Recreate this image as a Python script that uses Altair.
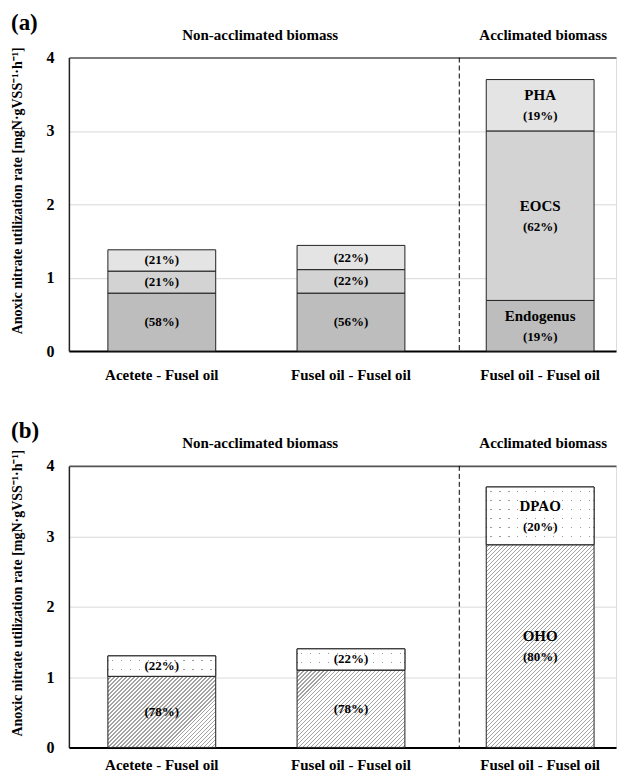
import altair as alt
import pandas as pd

# ---------------- data ----------------
cat_ids = ["g1", "g2", "g3"]
cat_labels = ["Acetete - Fusel oil", "Fusel oil - Fusel oil", "Fusel oil - Fusel oil"]
groups = ["Non-acclimated biomass", "Acclimated biomass"]
named = [False, False, True]

# panel (a)
a_components = ["Endogenus", "EOCS", "PHA"]
a_endogenus = [0.79, 0.79, 0.69]
a_eocs = [0.30, 0.32, 2.31]
a_pha = [0.29, 0.33, 0.70]
a_pct_endogenus = ["(58%)", "(56%)", "(19%)"]
a_pct_eocs = ["(21%)", "(22%)", "(62%)"]
a_pct_pha = ["(21%)", "(22%)", "(19%)"]

# panel (b)
b_components = ["OHO", "DPAO"]
b_oho = [1.01, 1.10, 2.88]
b_dpao = [0.29, 0.30, 0.82]
b_pct_oho = ["(78%)", "(78%)", "(80%)"]
b_pct_dpao = ["(22%)", "(22%)", "(20%)"]

y_title = "Anoxic nitrate utilization rate [mgN\u00b7gVSS\u207b\u00b9\u00b7h\u207b\u00b9]"

# ---------------- style / layout ----------------
SERIF = "Liberation Serif"
W = 548
HA = 294
HB = 282
PI, PO, AL = 0.43, 0.161, 0.64
BW = W / (3 - PI + 2 * PO) * (1 - PI)


def long_table(components, values, pcts):
    rows = []
    for k, comp in enumerate(components):
        for i, c in enumerate(cat_ids):
            rows.append({"cat": c, "comp": comp, "order": k,
                         "value": values[k][i], "pct": pcts[k][i],
                         "named": named[i]})
    return pd.DataFrame(rows)


df_a = long_table(a_components, [a_endogenus, a_eocs, a_pha],
                  [a_pct_endogenus, a_pct_eocs, a_pct_pha])
df_b = long_table(b_components, [b_oho, b_dpao], [b_pct_oho, b_pct_dpao])

label_expr = " : ".join(
    f"datum.value == '{c}' ? '{l}'" for c, l in zip(cat_ids, cat_labels)
) + " : ''"

x_scale = alt.Scale(type="band", domain=cat_ids, paddingInner=PI, paddingOuter=PO, align=AL)


def x_axis(pad):
    return alt.Axis(title=None, labelExpr=label_expr, labelAngle=0, ticks=False,
                    domainColor="#000000", domainWidth=2, labelFont=SERIF,
                    labelFontWeight="bold", labelFontSize=15, labelColor="#000000",
                    labelPadding=pad, grid=False)


def y_axis(h):
    return alt.Axis(title=y_title, values=[0, 1, 2, 3, 4], format="d", ticks=False,
                    domainColor="#222222", domainWidth=1.5,
                    gridColor={"condition": {"test": "datum.value === 4", "value": "#555555"},
                               "value": "#d9d9d9"},
                    gridWidth={"condition": {"test": "datum.value === 4", "value": 1.6},
                               "value": 1},
                    labelFont=SERIF, labelFontWeight="bold", labelFontSize=16,
                    labelColor="#000000", labelPadding=15,
                    titleFont=SERIF, titleFontWeight="bold", titleFontSize=14,
                    titleColor="#000000", titlePadding=21, titleY=h / 2 - 14)


def stacked(df):
    return (alt.Chart(df)
            .transform_stack(stack="value", groupby=["cat"], as_=["y0", "y1"],
                             sort=[alt.SortField("order", order="ascending")])
            .transform_calculate(mid="(datum.y0 + datum.y1) / 2"))


# ---- gradient helpers (hatch / dot textures) ----
def stops_expr(period, length, f0, f1, c_off, c_on):
    out = []
    n = int(length / period) + 1
    for i in range(n):
        s = min(i * period / length, 1.0)
        a = min((i + f0) * period / length, 1.0)
        b = min((i + f1) * period / length, 1.0)
        e = min((i + 1) * period / length, 1.0)
        out += [f"{{offset: {s:.5f}, color: '{c_off}'}}", f"{{offset: {a:.5f}, color: '{c_off}'}}",
                f"{{offset: {a:.5f}, color: '{c_on}'}}", f"{{offset: {b:.5f}, color: '{c_on}'}}",
                f"{{offset: {b:.5f}, color: '{c_off}'}}", f"{{offset: {e:.5f}, color: '{c_off}'}}"]
    return "[" + ", ".join(out) + "]"


L = 340.0
PXB = HB / 4
Hx = f"((datum.y1 - datum.y0) * {PXB})"
den = f"({BW} * {BW} + {Hx} * {Hx})"
hatch = (f"{{gradient: 'linear', x1: 0, y1: 0, x2: {L} * {BW} / {den}, y2: {L} * {Hx} / {den}, "
         f"stops: {stops_expr(4.0, L, 0.68, 1.0, '#ffffff', '#a3a3a3')}}}")
DOT = 9.0
dw = 0.8 / DOT
vstripes = (f"{{gradient: 'linear', x1: 0, y1: 0, x2: 1, y2: 0, "
            f"stops: {stops_expr(DOT, BW, 0.5 - dw, 0.5 + dw, '#ffffff', '#9a9a9a')}}}")
hmask = (f"{{gradient: 'linear', x1: 0, y1: 0, x2: 0, y2: {L} / {Hx}, "
         f"stops: {stops_expr(DOT, L, 0.5 - dw, 0.5 + dw, '#ffffff', 'rgba(255,255,255,0)')}}}")
grad_expr = f"datum.comp == 'OHO' ? {hatch} : {vstripes}"


def panel(df, h, fill_enc, tag, xpad, extra=None, mask=None):
    base = stacked(df)
    x = alt.X("cat:N", scale=x_scale, axis=x_axis(xpad), sort=cat_ids)
    y = alt.Y("y0:Q", scale=alt.Scale(domain=[0, 4], nice=False), axis=y_axis(h), stack=None)
    bar_src = base.transform_calculate(**extra) if extra else base
    layers = [bar_src.mark_bar(stroke="#222222", strokeWidth=1).encode(
        x=x, y=y, y2="y1:Q", fill=fill_enc)]
    if mask:
        layers.append(base.transform_filter(mask[0]).transform_calculate(m=mask[1])
                      .mark_bar(stroke="#222222", strokeWidth=1).encode(
            x=alt.X("cat:N"), y=alt.Y("y0:Q"), y2="y1:Q",
            fill=alt.Fill("m:N", scale=None, legend=None)))
    txt = dict(font=SERIF, fontWeight="bold", color="#000000")
    layers.append(base.transform_filter("!datum.named").mark_text(fontSize=13, **txt).encode(
        x=alt.X("cat:N"), y=alt.Y("mid:Q"), text="pct:N"))
    layers.append(base.transform_filter("datum.named").mark_text(fontSize=15, dy=-10, **txt).encode(
        x=alt.X("cat:N"), y=alt.Y("mid:Q"), text="comp:N"))
    layers.append(base.transform_filter("datum.named").mark_text(fontSize=13, dy=11, **txt).encode(
        x=alt.X("cat:N"), y=alt.Y("mid:Q"), text="pct:N"))
    # dashed separator
    layers.append(alt.Chart(pd.DataFrame({"sep": [groups[1]]})).mark_rule(
        strokeDash=[5, 3], color="#000000", strokeWidth=1, xOffset=-27).encode(
        x=alt.XDatum("g3", type="nominal", bandPosition=0)))
    # group headers
    hdr = dict(font=SERIF, fontWeight="bold", fontSize=15, color="#000000", dy=-23)
    layers.append(alt.Chart(pd.DataFrame({"t": [groups[0]]})).mark_text(xOffset=-37, **hdr).encode(
        x=alt.XDatum("g2", type="nominal", bandPosition=0), y=alt.YDatum(4), text="t:N"))
    layers.append(alt.Chart(pd.DataFrame({"t": [groups[1]]})).mark_text(xOffset=3, **hdr).encode(
        x=alt.XDatum("g3", type="nominal", bandPosition=0.5), y=alt.YDatum(4), text="t:N"))
    return alt.layer(*layers).properties(
        width=W, height=h,
        title=alt.TitleParams(tag, anchor="start", frame="bounds", font=SERIF,
                              fontWeight="bold", fontSize=23, color="#000000", offset=-7))


fill_a = alt.Fill("comp:N", scale=alt.Scale(domain=a_components,
                                             range=["#bdbdbd", "#d3d3d3", "#e4e4e4"]),
                  legend=None)
fill_b = alt.Fill("g:N", scale=None, legend=None)

panel_a = panel(df_a, HA, fill_a, "(a)", 16)
panel_b = panel(df_b, HB, fill_b, "(b)", 10, extra={"g": grad_expr},
                mask=("datum.comp == 'DPAO'", hmask))

chart = alt.vconcat(panel_a, panel_b, spacing=36).properties(
    padding={"left": 2, "top": 2, "right": 0, "bottom": 0}
).configure_view(stroke=None).configure(background="#ffffff")

chart.save("out.html", embed_options={"renderer": "svg", "actions": False})
